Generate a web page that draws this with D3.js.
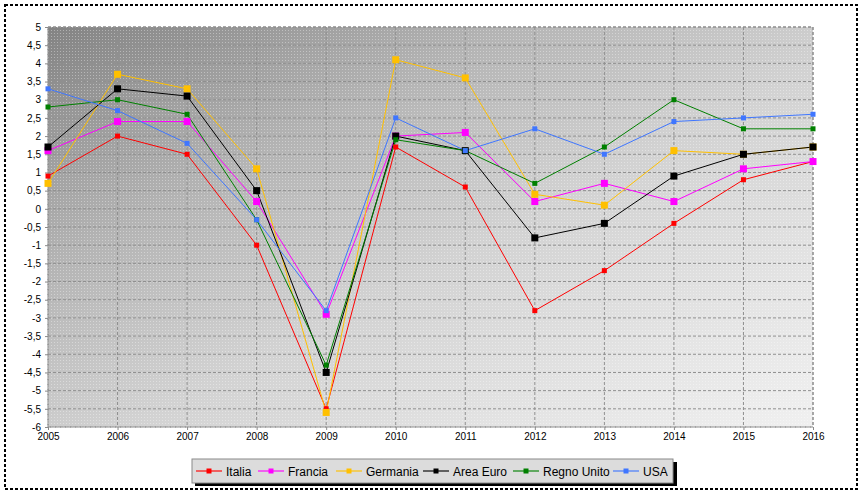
<!DOCTYPE html>
<html><head><meta charset="utf-8">
<script src="https://cdn.jsdelivr.net/npm/d3@7"></script>
<style>body{margin:0;background:#fff}svg{display:block}text{font-family:"Liberation Sans",Arial,sans-serif}</style>
</head><body><svg id="c" width="863" height="497"></svg>
<script>
const years = [2005,2006,2007,2008,2009,2010,2011,2012,2013,2014,2015,2016];
const yTicks = [5,4.5,4,3.5,3,2.5,2,1.5,1,0.5,0,-0.5,-1,-1.5,-2,-2.5,-3,-3.5,-4,-4.5,-5,-5.5,-6];
const seriesNames = ["Italia","Francia","Germania","Area Euro","Regno Unito","USA"];
const italia     = [0.9,2.0,1.5,-1.0,-5.5,1.7,0.6,-2.8,-1.7,-0.4,0.8,1.3];
const francia    = [1.6,2.4,2.4,0.2,-2.9,2.0,2.1,0.2,0.7,0.2,1.1,1.3];
const germania   = [0.7,3.7,3.3,1.1,-5.6,4.1,3.6,0.4,0.1,1.6,1.5,1.7];
const areaEuro   = [1.7,3.3,3.1,0.5,-4.5,2.0,1.6,-0.8,-0.4,0.9,1.5,1.7];
const regnoUnito = [2.8,3.0,2.6,-0.3,-4.3,1.9,1.6,0.7,1.7,3.0,2.2,2.2];
const usa        = [3.3,2.7,1.8,-0.3,-2.8,2.5,1.6,2.2,1.5,2.4,2.5,2.6];
const seriesValues = [italia,francia,germania,areaEuro,regnoUnito,usa];
const colors = ["#ff0000","#ff00ff","#ffc000","#000000","#008000","#3f76ff"];
const markerSizes = [5,7,7,7,5,5];

const svg = d3.select("#c");
const L = 48, R = 813, T = 27, B = 427;

// outer dotted border
svg.append("rect").attr("x",5).attr("y",5).attr("width",852).attr("height",484)
  .attr("fill","none").attr("stroke","#000").attr("stroke-width",2).attr("stroke-dasharray","3,2");

const defs = svg.append("defs");
const g = defs.append("linearGradient").attr("id","bg").attr("x1","0").attr("y1","0").attr("x2","1").attr("y2","1");
[[0,"#838383"],[0.3,"#b4b4b4"],[0.55,"#d2d2d2"],[0.8,"#e4e4e4"],[1,"#f0f0f0"]].forEach(s=>g.append("stop").attr("offset",s[0]).attr("stop-color",s[1]));
const pat = defs.append("pattern").attr("id","dith").attr("width",3).attr("height",3).attr("patternUnits","userSpaceOnUse");
pat.append("rect").attr("x",0).attr("y",0).attr("width",1).attr("height",1).attr("fill","#fff").attr("opacity",0.35);

const x = d3.scaleLinear().domain([2005,2016]).range([L,R]);
const y = d3.scaleLinear().domain([-6,5]).range([B,T]);

svg.append("rect").attr("x",L).attr("y",T).attr("width",R-L).attr("height",B-T).attr("fill","url(#bg)");
svg.append("rect").attr("x",L).attr("y",T).attr("width",R-L).attr("height",B-T).attr("fill","url(#dith)");

// grid
svg.append("g").selectAll("line").data(yTicks).join("line")
  .attr("x1",L).attr("x2",R).attr("y1",d=>y(d)).attr("y2",d=>y(d))
  .attr("stroke","#8f8f8f").attr("stroke-dasharray","3,2").attr("stroke-width",1);
svg.append("g").selectAll("line").data(years).join("line")
  .attr("y1",T).attr("y2",B).attr("x1",d=>x(d)).attr("x2",d=>x(d))
  .attr("stroke","#8f8f8f").attr("stroke-dasharray","3,2").attr("stroke-width",1);
svg.append("rect").attr("x",L).attr("y",T).attr("width",R-L).attr("height",B-T)
  .attr("fill","none").attr("stroke","#8a8a8a").attr("stroke-dasharray","3,2");

// axes
const fmt = d => String(d).replace(".",",");
const yAxis = d3.axisLeft(y).tickValues(yTicks).tickFormat(fmt).tickSize(3).tickPadding(4);
const ya = svg.append("g").attr("transform",`translate(${L},0)`).call(yAxis);
ya.select(".domain").remove();
ya.selectAll(".tick line").attr("stroke","#8a8a8a");
ya.selectAll("text").attr("font-size",10).attr("fill","#000");
const xAxis = d3.axisBottom(x).tickValues(years).tickFormat(d3.format("d")).tickSize(3).tickPadding(3);
const xa = svg.append("g").attr("transform",`translate(0,${B})`).call(xAxis);
xa.select(".domain").remove();
xa.selectAll(".tick line").attr("stroke","#8a8a8a");
xa.selectAll("text").attr("font-size",10).attr("fill","#000");

// lines
const line = d3.line().x((d,i)=>x(years[i])).y(d=>y(d));
seriesValues.forEach((vals,si)=>{
  svg.append("path").datum(vals).attr("d",line).attr("fill","none").attr("stroke",colors[si]).attr("stroke-width",1);
});
seriesValues.forEach((vals,si)=>{
  const s = markerSizes[si];
  svg.append("g").selectAll("rect").data(vals).join("rect")
    .attr("x",(d,i)=>x(years[i])-s/2).attr("y",d=>y(d)-s/2).attr("width",s).attr("height",s)
    .attr("fill",colors[si]);
});

// legend
const lg = svg.append("g");
lg.append("rect").attr("x",195).attr("y",462).attr("width",482).attr("height",24).attr("fill","#000");
lg.append("rect").attr("x",192).attr("y",459).attr("width",481).attr("height",24).attr("fill","#dcdcdc").attr("stroke","#8a8a8a");
const lineX = [196,258,336,423,513,613];
seriesNames.forEach((n,i)=>{
  const lx = lineX[i], cy = 471;
  lg.append("line").attr("x1",lx).attr("x2",lx+26).attr("y1",cy).attr("y2",cy).attr("stroke",colors[i]).attr("stroke-width",1.5).attr("opacity",0.75);
  lg.append("rect").attr("x",lx+13-2.5).attr("y",cy-2.5).attr("width",5).attr("height",5).attr("fill",colors[i]);
  lg.append("text").attr("x",lx+30).attr("y",cy+4.5).attr("font-size",12).attr("fill","#000").text(n);
});
</script></body></html>
